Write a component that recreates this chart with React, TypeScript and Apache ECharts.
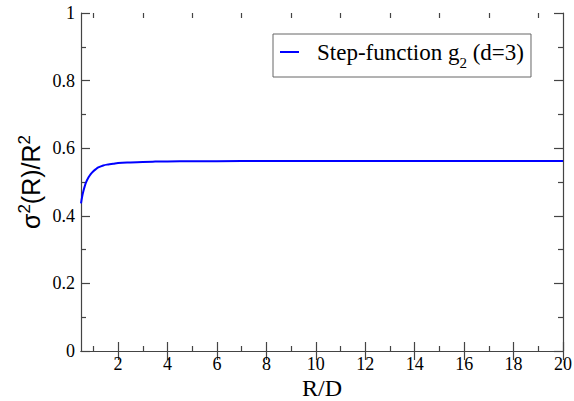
import React, { useEffect, useRef } from "react";
import * as echarts from "echarts";

const rValues = [0.5, 0.55, 0.6, 0.65, 0.7, 0.8, 0.9, 1.0, 1.1, 1.2, 1.4, 1.6, 1.8, 2.0, 2.5, 3.0, 3.5, 4.0, 5.0, 6.0, 8.0, 10.0, 12.0, 14.0, 16.0, 18.0, 20.0];
const sigmaValues = [0.437, 0.458, 0.474, 0.487, 0.498, 0.513, 0.524, 0.532, 0.538, 0.543, 0.549, 0.552, 0.554, 0.556, 0.558, 0.5595, 0.5603, 0.5608, 0.5613, 0.5616, 0.5619, 0.562, 0.562, 0.562, 0.562, 0.562, 0.562];
const xMajorTicks = [2, 4, 6, 8, 10, 12, 14, 16, 18, 20];
const xMinorTicks = [1, 3, 5, 7, 9, 11, 13, 15, 17, 19];
const seriesName = "Step-function g2 (d=3)";

const axisColor = "#444";
const serif = "Liberation Serif";
const sans = "Liberation Sans";

export default function App() {
  const ref = useRef<HTMLDivElement>(null);
  useEffect(() => {
    if (!ref.current) return;
    const chart = echarts.init(ref.current, undefined, { renderer: "svg" });
    const gridRect = { left: 81, right: 11, top: 13, bottom: 50, containLabel: false, outerBoundsMode: "none" };
    const lineStyle = { color: axisColor, width: 1.2 };
    const numRich = { n: { fontFamily: serif, fontSize: 18, color: "#000", lineHeight: 18 } };
    const baseX = {
      type: "value" as const,
      min: 0.5,
      max: 20,
      splitLine: { show: false },
    };
    chart.setOption({
      animation: false,
      backgroundColor: "#fff",
      textStyle: { fontFamily: serif },
      grid: [{ ...gridRect }, { ...gridRect }],
      legend: {
        data: [seriesName],
        left: 273,
        top: 34,
        padding: [7, 7, 7, 7],
        borderColor: "#666",
        borderWidth: 1,
        borderRadius: 0,
        icon: "rect",
        itemWidth: 19,
        itemHeight: 2,
        formatter: () => "{a|Step-function g}{s|2}{a| (d=3)}",
        textStyle: {
          padding: [0, 0, 0, 13],
          rich: {
            a: { fontFamily: serif, fontSize: 23, color: "#000", lineHeight: 24, verticalAlign: "bottom" },
            s: { fontFamily: serif, fontSize: 15, color: "#000", lineHeight: 24, verticalAlign: "bottom", padding: [0, 0, -6, 0] },
          },
        },
      },
      xAxis: [
        {
          ...baseX,
          gridIndex: 0,
          position: "bottom",
          axisLine: { show: true, lineStyle },
          axisTick: { show: true, inside: true, length: 9, customValues: xMajorTicks, lineStyle },
          axisLabel: {
            customValues: xMajorTicks,
            margin: 4,
            formatter: (v: number) => `{n|${v}}`,
            rich: numRich,
          },
          name: "{t|R/D}",
          nameLocation: "middle",
          nameGap: 28,
          nameMoveOverlap: false,
          nameTextStyle: { rich: { t: { fontFamily: serif, fontSize: 24, color: "#000", lineHeight: 18 } } },
        },
        {
          ...baseX,
          gridIndex: 0,
          position: "top",
          axisLine: { show: true, lineStyle },
          axisTick: { show: true, inside: true, length: 9, customValues: xMajorTicks, lineStyle },
          axisLabel: { show: false },
        },
        {
          ...baseX,
          gridIndex: 1,
          position: "bottom",
          axisLine: { show: false },
          axisTick: { show: true, inside: true, length: 5, customValues: xMinorTicks, lineStyle },
          axisLabel: { show: false },
        },
        {
          ...baseX,
          gridIndex: 1,
          position: "top",
          axisLine: { show: false },
          axisTick: { show: true, inside: true, length: 5, customValues: xMinorTicks, lineStyle },
          axisLabel: { show: false },
        },
      ],
      yAxis: [
        {
          type: "value",
          gridIndex: 0,
          position: "left",
          min: 0,
          max: 1,
          interval: 0.2,
          splitLine: { show: false },
          axisLine: { show: true, lineStyle },
          axisTick: { show: true, inside: true, length: 9, lineStyle },
          minorTick: { show: true, splitNumber: 2, length: 5, lineStyle },
          axisLabel: {
            margin: 6,
            formatter: (v: number) => `{n|${v === 0 ? "0" : v === 1 ? "1" : v.toFixed(1)}}`,
            rich: numRich,
          },
          name: "{a|σ}{s|2}{a|(R)/R}{s|2}",
          nameLocation: "middle",
          nameRotate: 90,
          nameGap: 38,
          nameMoveOverlap: false,
          nameTextStyle: {
            rich: {
              a: { fontFamily: sans, fontSize: 25, color: "#000", lineHeight: 28, verticalAlign: "bottom" },
              s: { fontFamily: sans, fontSize: 17, color: "#000", lineHeight: 28, verticalAlign: "bottom", padding: [0, 0, 10, 0] },
            },
          },
        },
        {
          type: "value",
          gridIndex: 0,
          position: "right",
          min: 0,
          max: 1,
          interval: 0.2,
          splitLine: { show: false },
          axisLine: { show: true, lineStyle },
          axisTick: { show: true, inside: true, length: 9, lineStyle },
          minorTick: { show: true, splitNumber: 2, length: 5, lineStyle },
          axisLabel: { show: false },
        },
        {
          type: "value",
          gridIndex: 1,
          min: 0,
          max: 1,
          show: false,
        },
      ],
      series: [
        {
          name: seriesName,
          type: "line",
          xAxisIndex: 0,
          yAxisIndex: 0,
          data: rValues.map((r, i) => [r, sigmaValues[i]]),
          showSymbol: false,
          smooth: 0.4,
          lineStyle: { color: "#0000ff", width: 2 },
          itemStyle: { color: "#0000ff" },
        },
        {
          type: "line",
          xAxisIndex: 2,
          yAxisIndex: 2,
          data: [],
          silent: true,
        },
      ],
    });
    return () => chart.dispose();
  }, []);
  return <div ref={ref} style={{ width: 574, height: 401, position: "fixed", left: 0, top: 0 }} />;
}
